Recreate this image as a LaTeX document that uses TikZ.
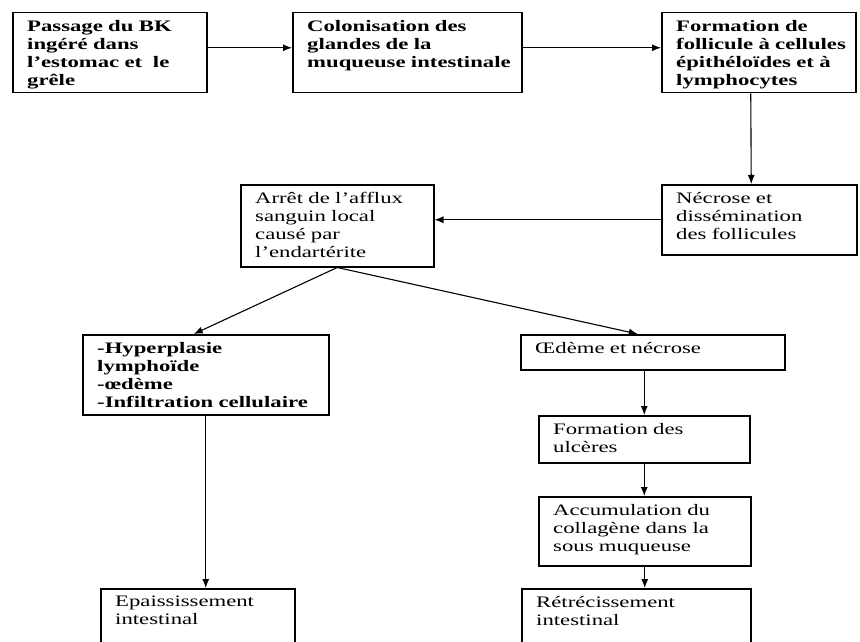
\documentclass[tikz,border=0pt]{standalone}
\usepackage{fontspec}
\setmainfont{Liberation Serif}[FakeStretch=1.42]
\usetikzlibrary{shapes,arrows.meta}
\tikzstyle{etape} = [rectangle, draw, line width=1.5pt, anchor=north west,
    inner sep=0pt]
\tikzstyle{texte} = [anchor=north west, inner xsep=15pt, inner ysep=8pt,
    text width=250pt, align=left, font=\fontsize{16}{18}\selectfont]
\tikzstyle{gras} = [texte, font=\fontsize{16}{18}\selectfont\bfseries]
\tikzstyle{line} = [draw, line width=1.1pt, -{Latex[length=9pt, width=7pt]}]

\begin{document}
\begin{tikzpicture}[x=1pt, y=-1pt]
    \clip (0,0) rectangle (860,642);
    \fill [white] (0,0) rectangle (860,642);
    % Place nodes
    \node [etape, minimum width=194pt, minimum height=80pt,
        label={[gras]north west:{Passage du BK\\ ingéré dans\\ l'estomac et~ le\\ grêle}}]
        (passage) at (12,12) {};
    \node [etape, minimum width=229pt, minimum height=80pt,
        label={[gras]north west:{Colonisation des\\ glandes de la\\ muqueuse intestinale}}]
        (colon) at (292,12) {};
    \node [etape, minimum width=194pt, minimum height=80pt,
        label={[gras]north west:{Formation de\\ follicule à cellules\\ épithéloïdes et à\\ lymphocytes}}]
        (follicule) at (661,12) {};
    \node [etape, minimum width=195pt, minimum height=70pt,
        label={[texte]north west:{Nécrose et\\ dissémination\\ des follicules}}]
        (necrose) at (661,184) {};
    \node [etape, minimum width=193pt, minimum height=82pt,
        label={[texte]north west:{Arrêt de l'afflux\\ sanguin local\\ causé par\\ l'endartérite}}]
        (arret) at (240,184) {};
    \node [etape, minimum width=246pt, minimum height=80pt,
        label={[gras]north west:{-Hyperplasie\\ lymphoïde\\ -œdème\\ -Infiltration cellulaire}}]
        (hyper) at (82,334) {};
    \node [etape, minimum width=264pt, minimum height=35pt,
        label={[texte]north west:{Œdème et nécrose}}]
        (oedeme) at (520,334) {};
    \node [etape, minimum width=211pt, minimum height=47pt,
        label={[texte]north west:{Formation des\\ ulcères}}]
        (ulceres) at (538,415) {};
    \node [etape, minimum width=212pt, minimum height=69pt,
        label={[texte]north west:{Accumulation du\\ collagène dans la\\ sous muqueuse}}]
        (collagene) at (538,496) {};
    \node [etape, minimum width=194pt, minimum height=70pt,
        label={[texte]north west:{Epaississement\\ intestinal}}]
        (epaiss) at (100,588) {};
    \node [etape, minimum width=229pt, minimum height=70pt,
        label={[texte]north west:{Rétrécissement\\ intestinal}}]
        (retrec) at (521,588) {};
    % Draw edges
    \path [line] ([yshift=5pt]passage.east) -- ([yshift=5pt]colon.west);
    \path [line] ([yshift=5pt]colon.east) -- ([yshift=5pt]follicule.west);
    \path [line] ([xshift=-8pt]follicule.south) -- ([xshift=-8pt]necrose.north);
    \path [line] (necrose.west) -- (necrose.west -| arret.east);
    \path [line] (arret.south) -- ([xshift=-12pt]hyper.north);
    \path [line] (arret.south) -- ([xshift=-15pt]oedeme.north);
    \path [line] (hyper.south) -- (hyper.south |- epaiss.north);
    \path [line] (oedeme.south -| ulceres.north) -- (ulceres.north);
    \path [line] (ulceres.south) -- (ulceres.south |- collagene.north);
    \path [line] (collagene.south) -- (collagene.south |- retrec.north);
\end{tikzpicture}
\end{document}
